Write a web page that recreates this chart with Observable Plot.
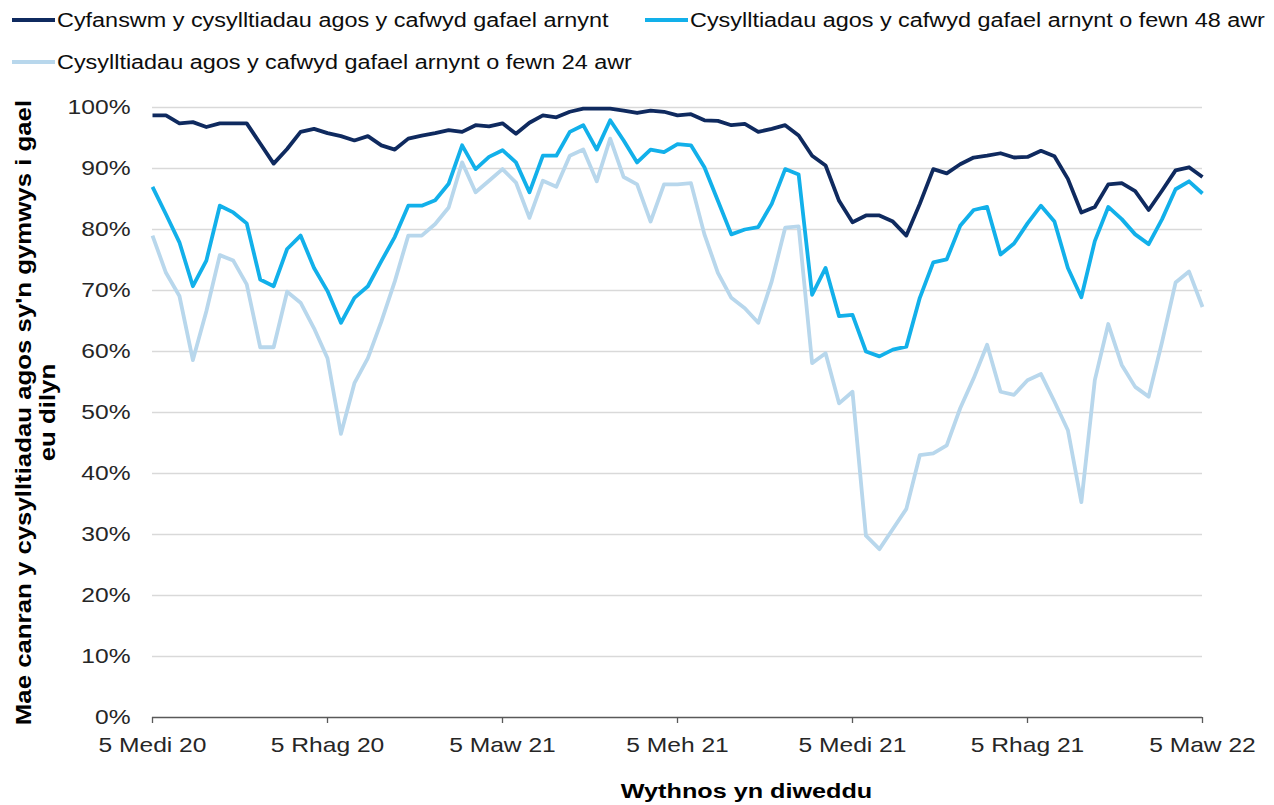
<!DOCTYPE html>
<html>
<head>
<meta charset="utf-8">
<script src="https://cdn.jsdelivr.net/npm/d3@7"></script>
<script src="https://cdn.jsdelivr.net/npm/@observablehq/plot@0.6"></script>
<style>
  body { margin: 0; background: #fff; font-family: "Liberation Sans", Arial, sans-serif; }
  #wrap { position: relative; width: 1274px; height: 805px; overflow: hidden; background: #fff; }
  #legend { position: relative; height: 85px; }
  .item { position: absolute; display: flex; align-items: center; height: 26px; transform: translateY(-50%); }
  .sw { width: 43px; height: 4px; margin-right: 2px; flex: none; }
  .lab { font-size: 19.5px; color: #0d0d0d; transform: scaleX(1.2); transform-origin: left center; white-space: nowrap; }
  #chart svg { display: block; }
</style>
</head>
<body>
<div id="wrap">
  <div id="legend"></div>
  <div id="chart"></div>
</div>
<script>
// Series names (legend text)
const seriesNames = [
  "Cyfanswm y cysylltiadau agos y cafwyd gafael arnynt",
  "Cysylltiadau agos y cafwyd gafael arnynt o fewn 48 awr",
  "Cysylltiadau agos y cafwyd gafael arnynt o fewn 24 awr"
];
const seriesColors = ["#0f2a5f", "#12b0ea", "#b8d7ec"];

// Weekly values (%), week ending 5 Sep 2020 ... 5 Mar 2022
const totalReached = [
  98.7, 98.7, 97.4, 97.6, 96.8, 97.4, 97.4, 97.4, 94.1, 90.8,
  93.2, 96.0, 96.5, 95.8, 95.3, 94.6, 95.3, 93.8, 93.1, 94.9,
  95.4, 95.8, 96.3, 96.0, 97.1, 96.9, 97.4, 95.7, 97.5, 98.7,
  98.4, 99.3, 99.8, 99.8, 99.8, 99.5, 99.1, 99.5, 99.3, 98.7,
  98.9, 97.9, 97.8, 97.1, 97.3, 96.0, 96.5, 97.1, 95.4, 92.1,
  90.5, 84.7, 81.2, 82.3, 82.3, 81.3, 79.0, 84.2, 89.9, 89.2,
  90.7, 91.8, 92.1, 92.5, 91.8, 91.9, 92.9, 92.0, 88.3, 82.8,
  83.7, 87.4, 87.6, 86.3, 83.2, 86.4, 89.7, 90.2, 88.6
];
const within48h = [
  87.0, 82.5, 77.9, 70.7, 74.9, 83.9, 82.8, 81.0, 71.8, 70.7,
  76.8, 79.0, 73.7, 69.9, 64.7, 68.8, 70.7, 74.8, 78.8, 83.9,
  83.9, 84.8, 87.5, 93.8, 89.9, 91.9, 93.0, 91.0, 86.1, 92.1,
  92.1, 96.0, 97.1, 93.1, 97.9, 94.6, 91.0, 93.1, 92.7, 94.0,
  93.8, 90.2, 84.7, 79.2, 80.0, 80.4, 84.2, 89.9, 89.0, 69.3,
  73.7, 65.8, 66.0, 60.0, 59.2, 60.3, 60.8, 68.8, 74.6, 75.1,
  80.6, 83.2, 83.7, 75.9, 77.7, 81.0, 83.9, 81.3, 73.7, 68.9,
  78.1, 83.7, 81.7, 79.2, 77.6, 81.7, 86.6, 87.9, 85.9
];
const within24h = [
  79.0, 72.9, 69.1, 58.6, 66.6, 75.8, 74.9, 71.0, 60.7, 60.7,
  69.8, 68.0, 63.8, 58.9, 46.5, 54.8, 58.9, 64.9, 71.5, 79.0,
  79.0, 80.9, 83.6, 91.0, 86.1, 88.0, 89.9, 87.7, 81.9, 88.0,
  87.0, 92.1, 93.1, 87.9, 94.9, 88.6, 87.4, 81.3, 87.4, 87.4,
  87.6, 79.2, 72.9, 68.8, 67.1, 64.7, 71.5, 80.3, 80.5, 58.1,
  59.7, 51.5, 53.4, 29.8, 27.6, 30.9, 34.2, 43.0, 43.3, 44.6,
  50.7, 55.6, 61.1, 53.4, 52.9, 55.3, 56.3, 51.8, 47.1, 35.3,
  55.3, 64.5, 57.8, 54.2, 52.6, 61.6, 71.3, 73.1, 67.3
];

// Axis ticks
const xTickWeeks = [0, 13, 26, 39, 52, 65, 78];
const xTickLabels = ["5 Medi 20", "5 Rhag 20", "5 Maw 21", "5 Meh 21", "5 Medi 21", "5 Rhag 21", "5 Maw 22"];
const yTicks = [0, 10, 20, 30, 40, 50, 60, 70, 80, 90, 100];
const yTitle = "Mae canran y cysylltiadau agos sy'n gymwys i gael\neu dilyn";
const xTitle = "Wythnos yn diweddu";

// Build table
const seriesValues = [totalReached, within48h, within24h];
const rows = [];
seriesValues.forEach((vals, s) => vals.forEach((v, i) => rows.push({week: i, value: v, series: seriesNames[s]})));
const nWeeks = totalReached.length;

// Legend
const legend = document.getElementById("legend");
const legendPos = [{left: 12, top: 20}, {left: 645, top: 20}, {left: 12, top: 62}];
seriesNames.forEach((name, i) => {
  const it = document.createElement("div");
  it.className = "item";
  it.style.left = legendPos[i].left + "px";
  it.style.top = legendPos[i].top + "px";
  const sw = document.createElement("span");
  sw.className = "sw";
  sw.style.background = seriesColors[i];
  const lab = document.createElement("span");
  lab.className = "lab";
  lab.textContent = name;
  it.appendChild(sw);
  it.appendChild(lab);
  legend.appendChild(it);
});

const plot = Plot.plot({
  width: 1274,
  height: 720,
  marginLeft: 152,
  marginRight: 72,
  marginTop: 22,
  marginBottom: 88,
  style: {fontFamily: '"Liberation Sans", Arial, sans-serif', fontSize: "20.5px", color: "#262626", background: "#fff", overflow: "visible"},
  x: {domain: [0, nWeeks - 1]},
  y: {domain: [0, 100]},
  color: {domain: seriesNames, range: seriesColors},
  marks: [
    Plot.gridY(yTicks.filter(d => d > 0), {stroke: "#d9d9d9", strokeOpacity: 1, strokeWidth: 1.5}),
    Plot.axisY(yTicks, {tickSize: 0, tickPadding: 22, tickFormat: d => d + "%", label: null, fill: "#262626"}),
    Plot.axisX(xTickWeeks, {tickSize: 6, tickPadding: 14, tickFormat: d => xTickLabels[xTickWeeks.indexOf(d)], label: null, stroke: "#595959", strokeWidth: 1.3, fill: "#262626"}),
    Plot.ruleY([0], {stroke: "#595959", strokeWidth: 1.5}),
    Plot.lineY(rows, {x: "week", y: "value", z: "series", stroke: "series", strokeWidth: 3.8, strokeLinejoin: "round", strokeLinecap: "butt"}),
    Plot.text([yTitle], {text: d => d, frameAnchor: "left", textAnchor: "middle", rotate: -90, dx: -139, lineAnchor: "top", lineHeight: 1.12, fontWeight: "bold", fontSize: 21.5, fill: "#000"}),
    Plot.text([xTitle], {text: d => d, frameAnchor: "bottom", textAnchor: "middle", dx: 69, dy: 80, fontWeight: "bold", fontSize: 21, fill: "#000"})
  ]
});

// Widen glyphs horizontally to match the reference's wide lettering
plot.querySelectorAll("text").forEach(t => {
  const g = document.createElementNS("http://www.w3.org/2000/svg", "g");
  const tr = t.getAttribute("transform");
  if (tr) g.setAttribute("transform", tr);
  t.parentNode.insertBefore(g, t);
  g.appendChild(t);
  t.setAttribute("transform", "scale(1.2,1)");
});

document.getElementById("chart").appendChild(plot);
</script>
</body>
</html>
